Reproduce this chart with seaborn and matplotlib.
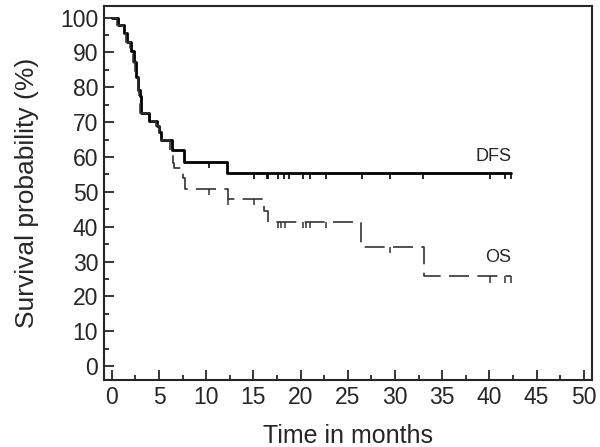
import numpy as np
import pandas as pd
import matplotlib.pyplot as plt
import seaborn as sns
from matplotlib.ticker import MultipleLocator

# Dados (tempo em meses, sobrevida em %)
dfs_tempo = [0, 0.67, 1.24, 1.6, 2.0, 2.3, 2.55, 2.8, 2.95, 3.07, 3.95, 4.75, 5.0, 5.25, 6.42, 7.65, 12.24]
dfs_surv = [100, 98, 95.6, 93.1, 90.3, 87.4, 83.0, 79.3, 77.4, 72.6, 70.2, 68.8, 67.3, 64.9, 62.1, 58.7, 55.4]
dfs_censura = [10.3, 15.06, 16.4, 16.5, 17.6, 18.2, 18.8, 20.3, 21.0, 22.7, 26.5, 29.5, 33.0, 40.1, 41.7, 42.3]

os_tempo = [0, 0.6, 1.2, 1.55, 1.95, 2.25, 2.5, 2.75, 2.9, 3.0, 3.9, 4.7, 4.95, 5.2, 6.2, 6.45, 6.6, 7.55, 7.8,
            12.3, 16.1, 16.5, 26.35, 33.05]
os_surv = [100, 98, 95.6, 93.1, 90.3, 87.4, 83.0, 79.3, 77.4, 72.6, 70.2, 68.8, 67.3, 64.9, 62.1, 58.2, 56.9, 54.0,
           50.8, 47.9, 44.6, 41.3, 34.3, 25.7]
os_censura = [10.3, 12.3, 15.06, 17.6, 17.95, 18.3, 20.3, 20.6, 21.0, 22.7, 29.5, 40.1, 41.7, 42.3]

tempo_final = 42.3

sns.set_style("ticks")
plt.rcParams["font.family"] = ["Liberation Sans", "DejaVu Sans"]

fig, ax = plt.subplots(figsize=(6, 4.47), dpi=100)
fig.subplots_adjust(left=0.173, right=0.987, bottom=0.15, top=0.987)


def curva(tempo, surv):
    return pd.DataFrame({"t": tempo + [tempo_final], "s": surv + [surv[-1]]})


def nivel(tempo, surv, t):
    idx = np.searchsorted(tempo, t, side="right") - 1
    return surv[idx]


sns.lineplot(data=curva(dfs_tempo, dfs_surv), x="t", y="s", drawstyle="steps-post",
             color="black", lw=2, estimator=None, sort=False, ax=ax)
sns.lineplot(data=curva(os_tempo, os_surv), x="t", y="s", drawstyle="steps-post",
             color="#333333", lw=1.2, linestyle=(0, (12, 5)), estimator=None, sort=False, ax=ax)

# marcas de censura
for t in dfs_censura:
    s = nivel(dfs_tempo, dfs_surv, t)
    ax.vlines(t, s - 1.8, s, color="black", lw=1.2)
for t in os_censura:
    s = nivel(os_tempo, os_surv, t)
    ax.vlines(t, s - 1.8, s, color="#333333", lw=1.1)

ax.text(42.3, 57.6, "DFS", ha="right", va="bottom", fontsize=13)
ax.text(42.3, 28.8, "OS", ha="right", va="bottom", fontsize=13)

ax.set_xlim(-0.85, 50.9)
ax.set_ylim(-4, 103.4)
ax.set_xticks(range(0, 51, 5))
ax.set_yticks(range(0, 101, 10))
ax.xaxis.set_minor_locator(MultipleLocator(2.5))
ax.yaxis.set_minor_locator(MultipleLocator(5))
ax.tick_params(which="both", direction="in", width=1.3, labelsize=16.5, pad=4)
ax.tick_params(which="major", length=7.5)
ax.tick_params(which="minor", length=3.5)
for sp in ax.spines.values():
    sp.set_linewidth(1.5)

ax.set_xlabel("Time in months", fontsize=18, labelpad=11)
ax.set_ylabel("Survival probability (%)", fontsize=19, labelpad=15)

fig.savefig("out.png", dpi=100)
